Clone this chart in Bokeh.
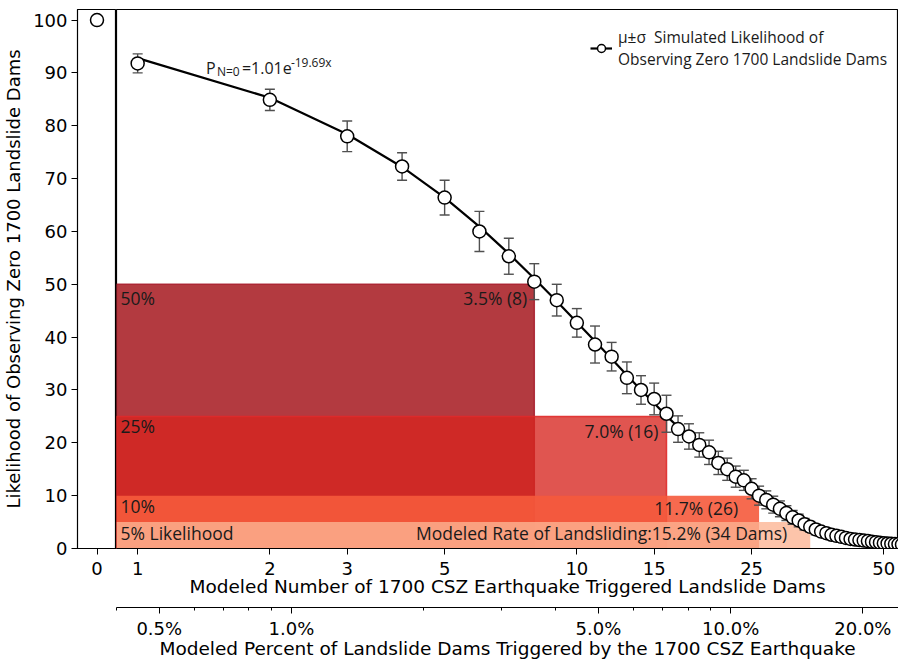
from bokeh.plotting import figure
from bokeh.models import (Range1d, LogScale, LogAxis, FixedTicker, PrintfTickFormatter,
                          ColumnDataSource, Legend, LegendItem)
from bokeh.layouts import row
from bokeh.core.properties import value
from bokeh.embed import file_html
from bokeh.resources import INLINE

# ---------------- data ----------------
n_dams = list(range(1, 56))
mean_pct = [91.8, 84.9, 78.0, 72.3, 66.4, 60.0, 55.3, 50.5, 47.0, 42.7,
            38.6, 36.3, 32.3, 30.0, 28.3, 25.5, 22.6, 21.2, 19.6, 18.2,
            16.2, 15.0, 13.6, 12.9, 11.3, 10.0, 9.2, 8.3, 7.5, 6.7,
            5.9, 5.3, 4.6, 4.1, 3.6, 3.2, 2.9, 2.6, 2.4, 2.2,
            2.0, 1.8, 1.7, 1.6, 1.5, 1.4, 1.3, 1.2, 1.1, 1.0,
            0.95, 0.9, 0.85, 0.8, 0.75]
std_pct = [1.8, 2.0, 2.9, 2.6, 3.3, 3.8, 3.4, 3.4, 3.0, 2.7,
           3.5, 2.7, 3.0, 2.7, 3.0, 3.5, 2.5, 2.4, 2.3, 2.3,
           2.2, 2.1, 2.0, 1.9, 1.9, 1.8, 1.7, 1.6, 1.5, 1.4,
           1.3, 1.2, 1.1, 1.0, 1.0, 0.9, 0.9, 0.8, 0.8, 0.7,
           0.7, 0.6, 0.6, 0.6, 0.5, 0.5, 0.5, 0.5, 0.4, 0.4,
           0.4, 0.4, 0.4, 0.3, 0.3]
fit_pct = [92.8, 85.3, 78.4, 72.2, 66.4, 60.9, 55.8, 51.1, 46.8, 42.8,
           39.2, 35.9, 32.8, 30.0, 27.5, 25.1, 23.0, 21.0, 19.2, 17.6,
           16.1, 14.7, 13.4, 12.3, 11.2, 10.3, 9.4, 8.6, 7.8, 7.1,
           6.3, 5.6, 5.0, 4.4, 3.9, 3.5, 3.1, 2.8, 2.5, 2.3,
           2.1, 1.9, 1.7, 1.6, 1.5, 1.4, 1.3, 1.2, 1.1, 1.0,
           0.95, 0.9, 0.85, 0.8, 0.75]
zero_n = [0]
zero_pct = [100.0]

levels = [50, 25, 10, 5]
level_n = [8, 16, 26, 34]
level_left_text = ["50%", "25%", "10%", "5% Likelihood"]
level_right_text = ["3.5% (8)", "7.0% (16)", "11.7% (26)",
                    "Modeled Rate of Landsliding:15.2% (34 Dams)"]

count_ticks = [1, 2, 3, 5, 10, 15, 25, 50]
pct_ticks = [0.5, 1, 5, 10, 20]
pct_minor = [0.4, 0.6, 0.7, 0.8, 0.9, 2, 3, 4, 6, 7, 8, 9, 30, 40]
y_ticks = list(range(0, 101, 10))
TOTAL_DAMS = 224

# ---------------- styles ----------------
level_colors = ["#b33a40", "#d7251f", "#f55a3c", "#fcb493"]
level_alpha = [1.0, 0.78, 0.9, 0.79]
level_line_colors = ["#a91f2d", "#e02a2a", "#f55a3c", "#fcb493"]
level_line_alpha = [0.9, 0.9, 0.0, 0.0]
left_yoff = [14, 10, 10, 11]
right_xoff = [-7, -8, -21, -23]
right_yoff = [14, 15, 12, 11]

X_MIN, X_MAX = 0.895, 54
FRAME_H = 539
DV = "DejaVu Sans"
OS = "Open Sans"

y_rng = Range1d(0, 102)

# ---------------- main panel ----------------
p = figure(frame_width=782, frame_height=FRAME_H, x_axis_type="log",
           x_range=Range1d(X_MIN, X_MAX), y_range=y_rng, y_axis_location=None,
           toolbar_location=None, output_backend="svg",
           min_border_left=0, min_border_right=0, min_border_top=9, min_border_bottom=0)
p.xgrid.visible = False
p.ygrid.visible = False
p.outline_line_color = "black"
p.outline_line_width = 1.2
p.outline_line_alpha = 1.0

rect_src = ColumnDataSource(dict(left=[X_MIN] * len(levels), right=level_n, top=levels,
                                 bottom=[0] * len(levels), color=level_colors,
                                 alpha=level_alpha, lc=level_line_colors, la=level_line_alpha,
                                 ltxt=level_left_text, rtxt=level_right_text,
                                 lyo=left_yoff, rxo=right_xoff, ryo=right_yoff))
p.quad(left="left", right="right", top="top", bottom="bottom", source=rect_src,
       fill_color="color", fill_alpha="alpha", line_color="lc", line_alpha="la", line_width=1.5)

src = ColumnDataSource(dict(n=n_dams, m=mean_pct, s=std_pct, fit=fit_pct,
                            lo=[a - b for a, b in zip(mean_pct, std_pct)],
                            hi=[a + b for a, b in zip(mean_pct, std_pct)]))
line_r = p.line("n", "fit", source=src, line_color="black", line_width=2.2)
p.segment(x0="n", y0="lo", x1="n", y1="hi", source=src, line_color="#505050", line_width=1.4)
p.scatter("n", "lo", source=src, marker="dash", size=10, line_color="#505050", line_width=1.4)
p.scatter("n", "hi", source=src, marker="dash", size=10, line_color="#505050", line_width=1.4)
circ_r = p.scatter("n", "m", source=src, marker="circle", size=13, fill_color="white",
                   line_color="black", line_width=1.5)

p.text(x="left", y="top", text="ltxt", source=rect_src, x_offset=4, y_offset="lyo",
       text_baseline="middle", text_align="left", text_font=value(OS),
       text_font_size="17.5px", text_color="#1a1a1a")
p.text(x="right", y="top", text="rtxt", source=rect_src, x_offset="rxo", y_offset="ryo",
       text_baseline="middle", text_align="right", text_font=value(OS),
       text_font_size="17.5px", text_color="#1a1a1a")

# fitted-equation annotation
eq_src = ColumnDataSource(dict(x=[1.43] * 4, y=[91.0] * 4,
                               t=["P", "N=0", "=1.01e", "-19.69x"],
                               xo=[0, 11, 36, 85], yo=[0, 4, 0, -5],
                               fs=["16px", "12px", "16px", "12px"]))
p.text(x="x", y="y", text="t", source=eq_src, x_offset="xo", y_offset="yo",
       text_font_size="fs", text_baseline="middle", text_font=value(OS), text_color="#1a1a1a")

# axes
p.xaxis.ticker = FixedTicker(ticks=count_ticks, minor_ticks=[])
p.xaxis.formatter = PrintfTickFormatter(format="%d")
p.xaxis.axis_label = "Modeled Number of 1700 CSZ Earthquake Triggered Landslide Dams"

p.extra_x_ranges = {"pct": Range1d(X_MIN * 100 / TOTAL_DAMS, X_MAX * 100 / TOTAL_DAMS)}
p.extra_x_scales = {"pct": LogScale()}

# blank spacer axis between the two labelled axes (invisible tick & label only take room)
spacer = LogAxis(x_range_name="pct", ticker=FixedTicker(ticks=[1.0], minor_ticks=[]),
                 axis_line_alpha=0, major_tick_line_alpha=0, minor_tick_line_alpha=0,
                 major_tick_out=8, minor_tick_out=0, major_tick_in=0, minor_tick_in=0,
                 major_label_standoff=0, major_label_text_alpha=0,
                 major_label_text_font_size="4px")
p.add_layout(spacer, "below")

pax = LogAxis(x_range_name="pct", ticker=FixedTicker(ticks=pct_ticks, minor_ticks=pct_minor),
              formatter=PrintfTickFormatter(format="%.1f%%"),
              axis_label="Modeled Percent of Landslide Dams Triggered by the 1700 CSZ Earthquake")
p.add_layout(pax, "below")

for ax in [p.xaxis[0], pax]:
    ax.axis_line_color = "black"
    ax.major_tick_line_color = "black"
    ax.minor_tick_line_color = "black"
    ax.major_tick_out = 6
    ax.major_tick_in = 0
    ax.minor_tick_out = 3
    ax.minor_tick_in = 0
    ax.major_label_text_font = DV
    ax.major_label_text_font_size = "18px"
    ax.major_label_text_color = "black"
    ax.major_label_standoff = 7
    ax.axis_label_text_font = DV
    ax.axis_label_text_font_size = "18.5px"
    ax.axis_label_text_font_style = "normal"
    ax.axis_label_text_color = "black"
    ax.axis_label_standoff = -2
pax.major_label_standoff = 4
pax.axis_label_standoff = -4

legend = Legend(items=[LegendItem(label="μ±σ  Simulated Likelihood of\nObserving Zero 1700 Landslide Dams",
                                  renderers=[line_r, circ_r])],
                location=(474, 478), label_text_font=OS, label_text_font_size="15.5px",
                label_text_color="#1a1a1a", border_line_color=None, background_fill_alpha=0,
                glyph_width=22, label_standoff=6, padding=2, margin=0)
p.add_layout(legend)

# ---------------- zero panel ----------------
z = figure(frame_width=39, frame_height=FRAME_H, x_range=Range1d(-1, 1), y_range=y_rng,
           toolbar_location=None, output_backend="svg",
           min_border_left=73, min_border_right=0, min_border_top=9, min_border_bottom=0)
z.xgrid.visible = False
z.ygrid.visible = False
z.outline_line_color = "black"
z.outline_line_width = 1.2
z.scatter(zero_n, zero_pct, marker="circle", size=13, fill_color="white",
          line_color="black", line_width=1.5)
z.xaxis.ticker = FixedTicker(ticks=[0], minor_ticks=[])
z.yaxis.ticker = FixedTicker(ticks=y_ticks, minor_ticks=[])
z.yaxis.axis_label = "Likelihood of Observing Zero 1700 Landslide Dams"
for ax in [z.xaxis[0], z.yaxis[0]]:
    ax.axis_line_color = "black"
    ax.major_tick_line_color = "black"
    ax.major_tick_out = 6
    ax.major_tick_in = 0
    ax.major_label_text_font = DV
    ax.major_label_text_font_size = "18px"
    ax.major_label_text_color = "black"
    ax.major_label_standoff = 4
    ax.axis_label_text_font = DV
    ax.axis_label_text_font_size = "18px"
    ax.axis_label_text_font_style = "normal"
    ax.axis_label_text_color = "black"
    ax.axis_label_standoff = 6
z.xaxis.major_label_standoff = 7

layout = row(z, p, spacing=0)
open("out.html", "w").write(file_html(layout, INLINE))
